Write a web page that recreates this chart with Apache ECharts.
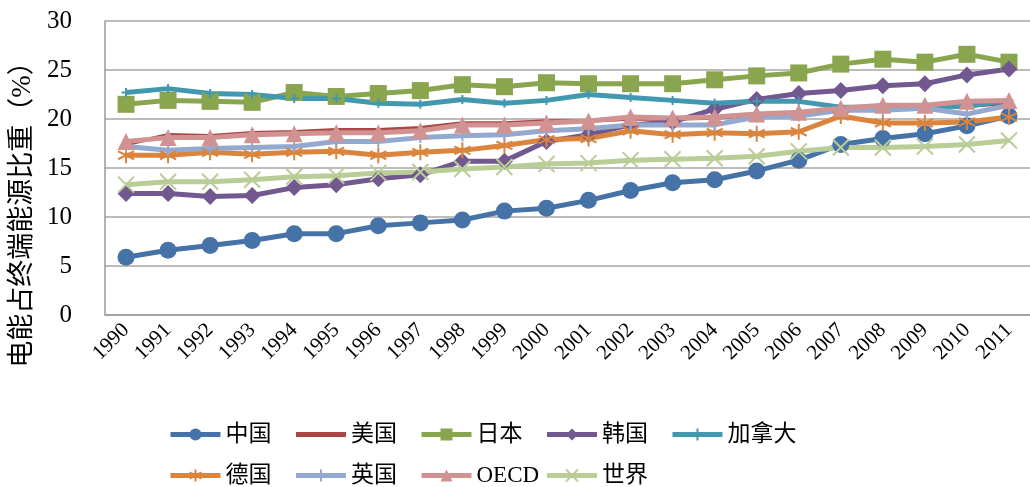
<!DOCTYPE html>
<html>
<head>
<meta charset="utf-8">
<script src="https://cdn.jsdelivr.net/npm/echarts@6/dist/echarts.min.js"></script>
<style>
  html, body { margin: 0; padding: 0; background: #fff; }
  #chart { width: 1030px; height: 487px; }
</style>
</head>
<body>
<div id="chart"></div>
<script>
// 年份
const years = ['1990', '1991', '1992', '1993', '1994', '1995', '1996', '1997', '1998', '1999', '2000',
  '2001', '2002', '2003', '2004', '2005', '2006', '2007', '2008', '2009', '2010', '2011']

// 电能占终端能源比重（%）
const china = [5.9, 6.6, 7.1, 7.6, 8.3, 8.3, 9.1, 9.4, 9.7, 10.6, 10.9, 11.7, 12.7, 13.5, 13.8, 14.7, 15.8, 17.4, 18.0, 18.5, 19.3, 20.3]
const usa = [17.4, 18.4, 18.3, 18.6, 18.7, 18.9, 18.9, 19.1, 19.6, 19.6, 19.8, 19.8, 20.0, 20.0, 20.1, 20.4, 20.7, 20.9, 21.0, 21.2, 21.3, 21.6]
const japan = [21.5, 21.9, 21.8, 21.7, 22.7, 22.3, 22.6, 22.9, 23.5, 23.3, 23.7, 23.6, 23.6, 23.6, 24.0, 24.4, 24.7, 25.6, 26.1, 25.8, 26.6, 25.8]
const korea = [12.4, 12.4, 12.1, 12.2, 13.0, 13.3, 13.9, 14.3, 15.7, 15.7, 17.7, 18.4, 19.4, 19.7, 21.0, 22.0, 22.6, 22.9, 23.4, 23.6, 24.5, 25.1]
const canada = [22.7, 23.1, 22.6, 22.5, 22.1, 22.1, 21.6, 21.5, 22.0, 21.6, 21.9, 22.5, 22.2, 21.9, 21.6, 21.8, 21.8, 21.2, 21.2, 21.2, 21.3, 21.9]
const germany = [16.3, 16.3, 16.6, 16.4, 16.6, 16.7, 16.3, 16.6, 16.8, 17.3, 17.9, 18.0, 18.8, 18.4, 18.6, 18.5, 18.7, 20.3, 19.6, 19.6, 19.7, 20.2]
const uk = [17.2, 16.8, 17.0, 17.1, 17.2, 17.7, 17.7, 18.1, 18.3, 18.4, 18.8, 19.0, 19.4, 19.4, 19.4, 20.2, 20.3, 20.9, 20.9, 21.1, 20.5, 21.4]
const oecd = [17.7, 18.1, 18.1, 18.4, 18.5, 18.6, 18.6, 18.8, 19.4, 19.4, 19.6, 19.8, 20.2, 20.1, 20.2, 20.5, 20.7, 21.1, 21.4, 21.4, 21.8, 21.9]
const world = [13.3, 13.6, 13.6, 13.8, 14.1, 14.2, 14.5, 14.6, 14.9, 15.1, 15.4, 15.5, 15.8, 15.9, 16.0, 16.2, 16.7, 17.1, 17.1, 17.2, 17.4, 17.8]

// 图例按列排列
const legendCols = [['中国', '德国'], ['美国', '英国'], ['日本', 'OECD'], ['韩国', '世界'], ['加拿大']]

// 标记形状（描边）
const plusPath = 'path://M5,0L5,10M0,5L10,5'
const crossPath = 'path://M0,0L10,10M10,0L0,10'
const starPath = 'path://M5,0L5,10M0.7,2.5L9.3,7.5M9.3,2.5L0.7,7.5'

const serif = '"Liberation Serif", "Noto Sans CJK SC", serif'

function line (name, data, color, symbol, size, stroke, width) {
  return {
    name: name,
    type: 'line',
    data: data,
    symbol: symbol,
    symbolSize: size,
    showSymbol: symbol !== 'none',
    lineStyle: { color: color, width: width || 5 },
    itemStyle: stroke
      ? { color: color, borderColor: color, borderWidth: 2 }
      : { color: color },
    emphasis: { disabled: true }
  }
}

const chart = echarts.init(document.getElementById('chart'))

const legends = legendCols.map((col, i) => ({
  orient: 'vertical',
  left: 163 + i * 125.5,
  top: 418,
  height: 120,
  itemWidth: 50,
  itemHeight: 15,
  itemGap: 18,
  lineStyle: { width: 5 },
  textStyle: { fontFamily: serif, fontSize: 23, color: '#000' },
  data: col.map(n => n === '美国' ? { name: n, itemStyle: { opacity: 0 } } : n)
}))

chart.setOption({
  animation: false,
  textStyle: { fontFamily: serif },
  grid: { left: 105, right: 0, top: 21, bottom: 172, containLabel: false },
  legend: legends,
  xAxis: {
    type: 'category',
    data: years,
    boundaryGap: true,
    axisLine: { lineStyle: { color: '#9a9a9a', width: 1.5 } },
    axisTick: { show: false },
    axisLabel: { rotate: 45, fontSize: 21, color: '#000', fontFamily: serif, margin: 12, interval: 0 }
  },
  yAxis: {
    type: 'value',
    min: 0,
    max: 30,
    interval: 5,
    name: '电能占终端能源比重（%）',
    nameLocation: 'middle',
    nameRotate: 90,
    nameGap: 68,
    nameTextStyle: { fontSize: 27, color: '#000', fontFamily: serif, padding: [0, 80, 0, 0] },
    axisLine: { show: true, lineStyle: { color: '#9a9a9a', width: 1.5 } },
    axisTick: { show: false },
    axisLabel: { fontSize: 25, color: '#000', fontFamily: serif, margin: 33 },
    splitLine: { lineStyle: { color: '#a6a6a6', width: 1.5 } }
  },
  series: [
    line('中国', china, '#4572A7', 'circle', 17),
    line('美国', usa, '#AA4643', 'none', 0, false, 3.5),
    line('日本', japan, '#89A54E', 'rect', 17),
    line('韩国', korea, '#71588F', 'diamond', 17),
    line('加拿大', canada, '#4198AF', plusPath, 9, true),
    line('德国', germany, '#DB843D', starPath, 16, true),
    line('英国', uk, '#93A9CF', plusPath, 11, true),
    line('OECD', oecd, '#D19392', 'triangle', 17),
    line('世界', world, '#B9CD96', crossPath, 16, true)
  ]
})
</script>
</body>
</html>
